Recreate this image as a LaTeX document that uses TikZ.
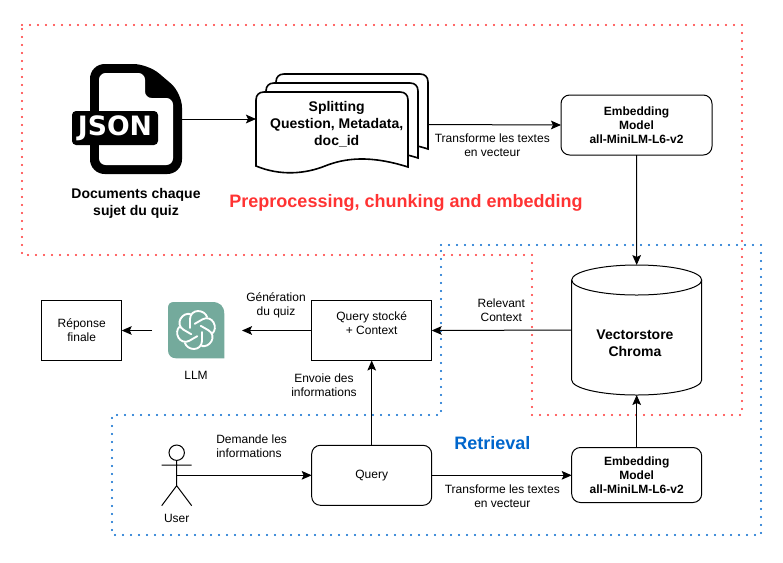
\documentclass[tikz,border=0pt]{standalone}
\usepackage{fontspec}
\setmainfont{Liberation Sans}
\newfontfamily\jsonfont{DejaVu Sans}
\usepackage{tikz}
\usetikzlibrary{arrows.meta}
\definecolor{zonered}{HTML}{FF3333}
\definecolor{zoneblue}{HTML}{0066CC}
\definecolor{llmgreen}{HTML}{74AA9C}

\begin{document}
\begin{tikzpicture}[
  x=0.75pt, y=-0.75pt,
  every node/.style={inner sep=0pt, outer sep=0pt},
  lab/.style={font=\fontsize{9}{10.5}\selectfont, align=center},
  blab/.style={lab, font=\fontsize{9}{10.5}\selectfont\bfseries},
  bigtxt/.style={font=\fontsize{10.5}{12.9}\selectfont\bfseries, align=center},
  box/.style={rectangle, draw, line width=0.75pt, minimum width=90pt, minimum height=45pt, lab},
  round/.style={box, rounded corners=6.5pt},
  zone/.style={line width=1.7pt, line cap=round, dash pattern=on 0pt off 6pt},
  msg/.style={-{Stealth[length=7.5pt, width=6.5pt, inset=1.5pt]}, line width=0.75pt},
]
\useasboundingbox (0,0) rectangle (783,562);

% zones
\draw[zone, zonered] (22,25) -- (742,25) -- (742,415) -- (532,415) -- (532,255) -- (22,255) -- cycle;
\draw[zone, zoneblue] (441,245) -- (761,245) -- (761,535) -- (112,535) -- (112,415) -- (441,415) -- cycle;

% json file
\node[minimum width=69pt, minimum height=82.5pt] (json) at (136,119) {};
\fill[rounded corners=11pt] (90,64) -- (148,64) -- (182,93) -- (182,174) -- (90,174) -- cycle;
\fill[white, rounded corners=5pt] (99,73) -- (145,73) -- (145,98) -- (173,98) -- (173,165) -- (99,165) -- cycle;
\node[fill=black, rounded corners=3pt, minimum width=64.5pt, minimum height=25.5pt, text=white,
  font=\jsonfont\fontsize{20}{20}\selectfont\bfseries] (jsontag) at (115,128) {JSON};
\node[bigtxt] (jsonlab) at (136,203) {Documents chaque\\sujet du quiz};

% paper stack
\foreach \dx/\dy in {20/-18, 10/-9, 0/0}
  \draw[line width=1.2pt, fill=white, shift={(\dx,\dy)}] (256,166) -- (256,100)
    .. controls (256,95) and (259,92) .. (264,92) -- (400,92)
    .. controls (405,92) and (408,95) .. (408,100) -- (408,167)
    .. controls (370,155) and (345,158) .. (325,166)
    .. controls (305,174) and (280,176) .. (256,166) -- cycle;
\node[minimum width=128.25pt, minimum height=74.25pt] (split) at (341.5,124.5) {};
\node[bigtxt] (splitlab) at (336.7,124.5) {Splitting\\Question, Metadata,\\doc\_id};

% models and store
\node[round, blab, minimum width=113.25pt] (embedtop) at (636.5,125) {Embedding\\Model\\all-MiniLM-L6-v2};
\node[minimum width=97.5pt, minimum height=97.5pt] (store) at (636.7,330) {};
\draw[line width=0.75pt] (571.7,280) .. controls (571.7,271.7) and (600.8,265) .. (636.7,265)
  .. controls (672.6,265) and (701.7,271.7) .. (701.7,280) -- (701.7,380)
  .. controls (701.7,388.3) and (672.6,395) .. (636.7,395)
  .. controls (600.8,395) and (571.7,388.3) .. (571.7,380) -- cycle;
\draw[line width=0.75pt] (571.7,280) .. controls (571.7,288.3) and (600.8,295) .. (636.7,295)
  .. controls (672.6,295) and (701.7,288.3) .. (701.7,280);
\node[bigtxt] (storelab) at (635,343.5) {Vectorstore\\Chroma};
\node[round, blab, minimum width=97.5pt, minimum height=41.25pt] (embedlow) at (636.7,475) {Embedding\\Model\\all-MiniLM-L6-v2};
\node[box] (stock) at (371.7,330.5) {Query stocké\\+ Context\\\mbox{}};
\node[round] (query) at (371.7,475.3) {Query};
\node[box, minimum width=60pt] (answer) at (81.7,330.5) {Réponse\\finale};

% llm icon
\node[minimum width=67.5pt, minimum height=42pt] (llm) at (197,330.5) {};
\fill[llmgreen] (168,308) .. controls (168,304) and (170,302) .. (174,302) -- (212,302)
  .. controls (220,302) and (224.3,306) .. (224.3,314) -- (224.3,358.3) -- (176,358.3)
  .. controls (171,358.3) and (168,355) .. (168,350) -- cycle;
\foreach \a in {0,60,...,300}
  \draw[white, line width=1.4pt, line cap=round, shift={(196,330)}, rotate=\a] (-6,-2) -- (-6,-11)
    .. controls (-6,-16) and (-2,-19) .. (2,-19)
    .. controls (7,-19) and (10,-16) .. (11,-13);
\node[lab] (llmlab) at (196,375) {LLM};

% user
\coordinate (user) at (176.7,475.3);
\draw[line width=0.75pt] (176.7,452.7) circle[radius=7.7];
\draw[line width=0.75pt] (176.7,460.4) -- (176.7,485.7) -- (161.7,505.7) (176.7,485.7) -- (191.7,505.7) (161.7,465) -- (191.7,465);
\node[lab] (userlab) at (176.7,518.7) {User};

% connectors
\draw[msg] (json.east) -- (json.east -| split.west);
\draw[msg] (split.east) -- (embedtop.west);
\draw[msg] (embedtop.south) -- (store.north);
\draw[msg] (store.west) -- (stock.east);
\draw[msg] (stock.west) -- (llm.east);
\draw[msg] (llm.west) -- (answer.east);
\draw[msg] (query.north) -- (stock.south);
\draw[msg] (user) -- (query.west);
\draw[msg] (query.east) -- (query.east -| embedlow.west);
\draw[msg] (embedlow.north) -- (store.south);

% labels
\node[lab] (transtop) at (492.3,145.7) {Transforme les textes\\en vecteur};
\node[lab] (translow) at (502.3,496.7) {Transforme les textes\\en vecteur};
\node[lab] (relevant) at (501.3,310) {Relevant\\Context};
\node[lab] (gen) at (276,305) {Génération\\du quiz};
\node[lab] (sendinfo) at (324,385) {Envoie des\\informations};
\node[lab, align=left, anchor=west] (askinfo) at (216.3,446) {Demande les\\informations};
\node[font=\fontsize{13.5}{16}\selectfont\bfseries, text=zonered] (pretitle) at (406,203) {Preprocessing, chunking and embedding};
\node[font=\fontsize{13.5}{16}\selectfont\bfseries, text=zoneblue] (rettitle) at (492.3,443.5) {Retrieval};
\end{tikzpicture}
\end{document}
